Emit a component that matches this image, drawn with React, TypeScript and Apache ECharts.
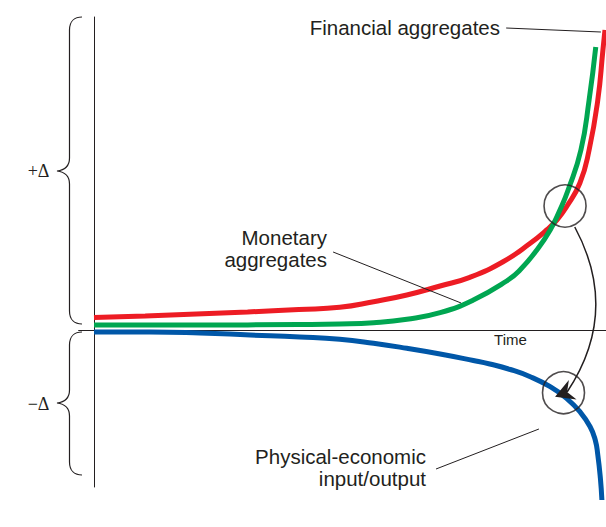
import React, { useEffect, useRef } from "react";
import * as echarts from "echarts";

// Values: x = time (0..100), y = change (+Δ / −Δ)
const financialAggregates: [number, number][] = [
  [0, 12.5], [10, 14], [20, 16], [30, 18], [40, 20.5], [48, 22.7], [54.6, 28.3],
  [61.1, 35], [67.6, 44], [73.4, 52.7], [79.9, 68.3], [85.2, 86.7], [88.4, 100],
  [90.4, 110], [92.3, 123.3], [94.9, 147], [96.7, 180], [98.4, 230], [99.4, 280],
  [99.8, 300],
];
const monetaryAggregates: [number, number][] = [
  [0, 5], [20, 5], [40, 5.5], [48, 6], [54.6, 7.3], [61.1, 10.7], [67.6, 17.3],
  [74.1, 30], [80.6, 49], [83.2, 60], [86.5, 80], [89.1, 100], [91, 120],
  [92.6, 140], [95.1, 180], [96.7, 230], [98, 283],
];
const physicalEconomic: [number, number][] = [
  [0, -2], [10.9, -2], [20.7, -3], [30.5, -5], [40.2, -7], [48, -9.3], [54.6, -13.3],
  [61.1, -18.3], [67.6, -24], [74.1, -30.5], [77.3, -34], [81.3, -39.5], [85.2, -46.7],
  [89.1, -56.7], [92.3, -68.3], [94.9, -81.7], [96.9, -96.7], [97.9, -110],
  [98.4, -125], [98.9, -148], [99.2, -170],
];
const circleMarks: [number, number][] = [[92, 124], [91.7, -62.7]];
const arrowCurve: [number, number][] = [[93.9, 103], [92.4, -62]];
const arrowTip: [number, number][] = [[90.05, -66.7]];
const leaderLines: [number, number][][] = [
  [[80.5, 302], [99, 298]],
  [[46.7, 78], [71.7, 27]],
  [[66.8, -139], [86.9, -99]],
];
const xRange = [-3, 100];
const yRange = [-157, 313];
const labelFinancial = "Financial aggregates";
const labelMonetary = ["Monetary", "aggregates"];
const labelPhysical = ["Physical-economic", "input/output"];
const labelTime = "Time";
const labelPlus = "+Δ";
const labelMinus = "−Δ";

const INK = "#231f20";
const SANS = '"Liberation Sans", Arial, Helvetica, sans-serif';
const SERIF = '"Liberation Serif", "Times New Roman", serif';

echarts.graphic.registerShape(
  "braceUp",
  echarts.graphic.extendPath(
    "M82,17 C75,17 69.5,21 69.5,30 L69.5,158 C69.5,166 65,170 57,171 C65,172 69.5,176 69.5,184 L69.5,311 C69.5,320 75,324 82,324",
    {}
  )
);
echarts.graphic.registerShape(
  "braceDown",
  echarts.graphic.extendPath(
    "M82,332 C75,332 69.5,336 69.5,345 L69.5,390 C69.5,398 65,402 57,403 C65,404 69.5,408 69.5,416 L69.5,462 C69.5,471 75,475 82,475",
    {}
  )
);

function txt(text: string, x: number, y: number, size: number, align: string, family = SANS) {
  return {
    type: "text",
    x,
    y,
    z: 100,
    style: {
      text,
      fontSize: size,
      fontFamily: family,
      fill: INK,
      align,
      verticalAlign: "middle",
    },
  };
}

function curve(name: string, data: [number, number][], color: string, z: number) {
  return {
    name,
    type: "line",
    data,
    showSymbol: false,
    smooth: 0.5,
    clip: false,
    lineStyle: { color, width: 5 },
    z,
  };
}

// arrowhead pointing left and slightly down (pixel direction)
const HEAD_DIR = [-0.93, 0.366];
const HEAD_LEN = 19;
const HEAD_HALF = 10.5;

export default function App() {
  const ref = useRef<HTMLDivElement>(null);
  useEffect(() => {
    if (!ref.current) return;
    const chart = echarts.init(ref.current, undefined, { renderer: "svg" });
    chart.setOption({
      animation: false,
      backgroundColor: "#ffffff",
      grid: { left: 78.64, right: 0, top: 17, bottom: 40 },
      xAxis: {
        type: "value",
        min: xRange[0],
        max: xRange[1],
        axisLine: { show: true, onZero: true, lineStyle: { color: INK, width: 1 } },
        axisTick: { show: false },
        axisLabel: { show: false },
        splitLine: { show: false },
      },
      yAxis: {
        type: "value",
        min: yRange[0],
        max: yRange[1],
        axisLine: { show: true, onZero: true, lineStyle: { color: INK, width: 1 } },
        axisTick: { show: false },
        axisLabel: { show: false },
        splitLine: { show: false },
      },
      series: [
        curve("Financial aggregates", financialAggregates, "#ed1c24", 3),
        curve("Monetary aggregates", monetaryAggregates, "#00a651", 4),
        curve("Physical-economic input/output", physicalEconomic, "#0057a8", 4),
        {
          type: "scatter",
          data: circleMarks,
          symbol: "circle",
          symbolSize: 42,
          clip: false,
          itemStyle: { color: "rgba(0,0,0,0)", borderColor: INK, borderWidth: 1.6 },
          z: 6,
        },
        {
          type: "lines",
          coordinateSystem: "cartesian2d",
          polyline: false,
          data: [{ coords: arrowCurve }],
          symbol: ["none", "none"],
          lineStyle: { color: INK, width: 1.5, curveness: 0.3, opacity: 1 },
          z: 7,
        },
        {
          type: "custom",
          coordinateSystem: "cartesian2d",
          data: arrowTip,
          clip: false,
          silent: true,
          z: 8,
          renderItem: (_params: any, api: any) => {
            const t = api.coord([api.value(0), api.value(1)]);
            const [dx, dy] = HEAD_DIR;
            const nx = -dy;
            const ny = dx;
            const bx = t[0] - HEAD_LEN * dx;
            const by = t[1] - HEAD_LEN * dy;
            const points = [
              [t[0], t[1]],
              [bx + HEAD_HALF * nx, by + HEAD_HALF * ny],
              [t[0] - 0.68 * HEAD_LEN * dx, t[1] - 0.68 * HEAD_LEN * dy],
              [bx - HEAD_HALF * nx, by - HEAD_HALF * ny],
            ];
            return { type: "polygon", shape: { points }, style: { fill: INK } };
          },
        },
        {
          type: "lines",
          coordinateSystem: "cartesian2d",
          polyline: false,
          data: leaderLines.map((c) => ({ coords: c })),
          symbol: ["none", "none"],
          lineStyle: { color: INK, width: 1, curveness: 0, opacity: 1 },
          z: 7,
        },
      ],
      graphic: [
        { type: "braceUp", x: 0, y: 0, style: { fill: "none", stroke: INK, lineWidth: 1.2 } },
        { type: "braceDown", x: 0, y: 0, style: { fill: "none", stroke: INK, lineWidth: 1.2 } },
        txt(labelPlus, 38.5, 171, 18, "center", SERIF),
        txt(labelMinus, 38.5, 404, 18, "center", SERIF),
        txt(labelFinancial, 500, 27, 20.5, "right"),
        txt(labelMonetary[0], 327, 237, 20.5, "right"),
        txt(labelMonetary[1], 327, 259, 20.5, "right"),
        txt(labelPhysical[0], 426, 456, 20.5, "right"),
        txt(labelPhysical[1], 426, 478, 20.5, "right"),
        txt(labelTime, 510.5, 339.5, 15, "center"),
      ],
    });
    return () => chart.dispose();
  }, []);
  return (
    <div
      ref={ref}
      style={{ position: "absolute", left: 0, top: 0, width: 606, height: 527 }}
    />
  );
}
